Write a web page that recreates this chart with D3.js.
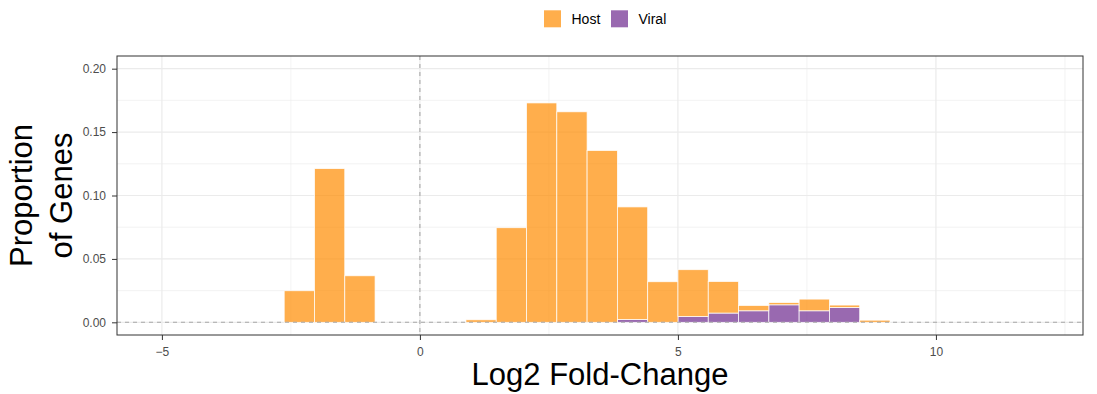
<!DOCTYPE html>
<html>
<head>
<meta charset="utf-8">
<script src="https://d3js.org/d3.v7.min.js"></script>
<style>
  body { margin: 0; background: #fff; }
  text { font-family: "Liberation Sans", Arial, sans-serif; }
  .tick text { font-size: 12px; fill: #4D4D4D; }
</style>
</head>
<body>
<div id="vis"></div>
<script>
// bin left edges (log2 fold-change), bin width
var binLeft = [-2.630, -2.043, -1.456, 0.892, 1.479, 2.066, 2.653, 3.240, 3.827,
               4.414, 5.001, 5.588, 6.175, 6.762, 7.349, 7.936, 8.523];
var binWidth = 0.587;
// proportion of genes per bin
var hostValues  = [0.0249, 0.1212, 0.0367, 0.0020, 0.0746, 0.1730, 0.1660, 0.1355, 0.0888,
                   0.0320, 0.0369, 0.0249, 0.0042, 0.0018, 0.0092, 0.0019, 0.0017];
var viralValues = [0, 0, 0, 0, 0, 0, 0, 0, 0.0022,
                   0, 0.0046, 0.0073, 0.0091, 0.0138, 0.0091, 0.0117, 0];
var groups = ["Host", "Viral"];
var colours = { Host: "#FF8C00", Viral: "#6E2A8F" };
var xTicks = [-5, 0, 5, 10];
var xMinor = [-2.5, 2.5, 7.5, 12.5];
var yTicks = [0, 0.05, 0.10, 0.15, 0.20];
var yMinor = [0.025, 0.075, 0.125, 0.175];

var W = 1097, H = 394;
var margin = { top: 56, right: 14, bottom: 59, left: 117 };
var width = W - margin.left - margin.right,
    height = H - margin.top - margin.bottom;

var svg = d3.select("#vis").append("svg")
  .attr("width", W).attr("height", H);
var g = svg.append("g")
  .attr("transform", "translate(" + margin.left + "," + margin.top + ")");

var x = d3.scaleLinear().domain([-5.87, 12.85]).range([0, width]);
var y = d3.scaleLinear().domain([-0.01, 0.21]).range([height, 0]);

// grid
g.selectAll(".xminor").data(xMinor).enter().append("line")
  .attr("x1", d => x(d)).attr("x2", d => x(d)).attr("y1", 0).attr("y2", height)
  .attr("stroke", "#EBEBEB").attr("stroke-width", 0.6);
g.selectAll(".yminor").data(yMinor).enter().append("line")
  .attr("y1", d => y(d)).attr("y2", d => y(d)).attr("x1", 0).attr("x2", width)
  .attr("stroke", "#EBEBEB").attr("stroke-width", 0.6);
g.selectAll(".xmajor").data(xTicks).enter().append("line")
  .attr("x1", d => x(d)).attr("x2", d => x(d)).attr("y1", 0).attr("y2", height)
  .attr("stroke", "#EBEBEB").attr("stroke-width", 1.2);
g.selectAll(".ymajor").data(yTicks).enter().append("line")
  .attr("y1", d => y(d)).attr("y2", d => y(d)).attr("x1", 0).attr("x2", width)
  .attr("stroke", "#EBEBEB").attr("stroke-width", 1.2);

// stacked bars, viral at the bottom
var rows = binLeft.map(function(b, i) {
  return { left: b, Host: hostValues[i], Viral: viralValues[i] };
});
var stack = d3.stack().keys(["Viral", "Host"])(rows);

g.selectAll(".layer").data(stack).enter().append("g")
  .attr("fill", d => colours[d.key])
  .attr("fill-opacity", 0.7)
  .selectAll("rect").data(d => d.filter(p => p[1] - p[0] > 0)).enter().append("rect")
  .attr("x", d => x(d.data.left))
  .attr("width", d => x(d.data.left + binWidth) - x(d.data.left))
  .attr("y", d => y(d[1]))
  .attr("height", d => y(d[0]) - y(d[1]))
  .attr("stroke", "#fff")
  .attr("stroke-opacity", 0.9)
  .attr("stroke-width", 0.8);

// reference lines
g.append("line")
  .attr("x1", 0).attr("x2", width).attr("y1", y(0)).attr("y2", y(0))
  .attr("stroke", "#A8A8A8").attr("stroke-width", 1.1).attr("stroke-dasharray", "4,4");
g.append("line")
  .attr("x1", x(0)).attr("x2", x(0)).attr("y1", 0).attr("y2", height)
  .attr("stroke", "#A8A8A8").attr("stroke-width", 1.1).attr("stroke-dasharray", "4,4");

// panel border
g.append("rect")
  .attr("width", width).attr("height", height)
  .attr("fill", "none").attr("stroke", "#333").attr("stroke-width", 1);

// axes
var xAxis = g.append("g")
  .attr("transform", "translate(0," + height + ")")
  .call(d3.axisBottom(x).tickValues(xTicks).tickSize(5).tickPadding(7).tickFormat(d3.format("d")));
var yAxis = g.append("g")
  .call(d3.axisLeft(y).tickValues(yTicks).tickSize(5).tickPadding(6).tickFormat(d3.format(".2f")));
[xAxis, yAxis].forEach(function(a) {
  a.attr("font-size", null).attr("font-family", null);
  a.select(".domain").remove();
  a.selectAll(".tick line").attr("stroke", "#333");
  a.selectAll(".tick text").attr("fill", "#4D4D4D");
});

// axis titles
svg.append("text")
  .attr("x", margin.left + width / 2).attr("y", 384.5)
  .attr("text-anchor", "middle")
  .style("font-size", "31px")
  .text("Log2 Fold-Change");

var yTitle = svg.append("text")
  .attr("transform", "translate(0," + (margin.top + height / 2) + ") rotate(-90)")
  .attr("text-anchor", "middle")
  .style("font-size", "31px");
yTitle.append("tspan").attr("x", 0).attr("y", 32).text("Proportion");
yTitle.append("tspan").attr("x", 0).attr("y", 72).text("of Genes");

// legend
var legend = svg.append("g");
var legendX = [544, 611];
groups.forEach(function(k, i) {
  legend.append("rect")
    .attr("x", legendX[i]).attr("y", 10.3).attr("width", 17).attr("height", 17)
    .attr("fill", colours[k]).attr("fill-opacity", 0.7);
  legend.append("text")
    .attr("x", legendX[i] + 27.5).attr("y", 24)
    .style("font-size", "14px")
    .text(k);
});
</script>
</body>
</html>
